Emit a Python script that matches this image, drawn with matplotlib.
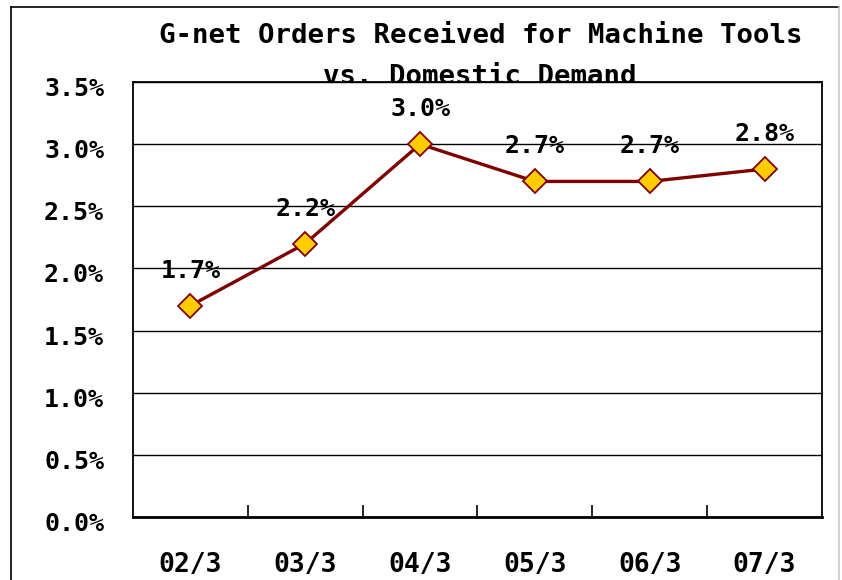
#!/usr/bin/env python3
"""
G-net orders received for machine tools vs. domestic demand
"""

import matplotlib
matplotlib.use('Agg')
import numpy as np
import matplotlib.pyplot as plt
from matplotlib.lines import Line2D

# Data
periods = ['02/3', '03/3', '04/3', '05/3', '06/3', '07/3']
share_pct = [1.7, 2.2, 3.0, 2.7, 2.7, 2.8]
y_ticks = [0.0, 0.5, 1.0, 1.5, 2.0, 2.5, 3.0, 3.5]

TITLE_LINES = ['G-net Orders Received for Machine Tools', 'vs. Domestic Demand']

# Style
LINE_COLOR = '#800000'
MARKER_FACE = '#FFCC00'
FONT = ['DejaVu Sans Mono', 'DejaVu Sans']
LABEL_SIZE = 18
PX = 72 / 100  # points per pixel at dpi 100

plt.rcParams['font.family'] = FONT
plt.rcParams['font.weight'] = 'bold'

fig = plt.figure(figsize=(8.42, 5.8), dpi=100)
ax = fig.add_axes([133 / 842, 63 / 580, 689 / 842, 435 / 580])

x = np.arange(len(periods))
ax.plot(x, share_pct, color=LINE_COLOR, linewidth=2.4, marker='D',
        markersize=12, markerfacecolor=MARKER_FACE,
        markeredgecolor=LINE_COLOR, markeredgewidth=1.3, zorder=5, clip_on=False)

# Value labels above the markers
for xi, v in zip(x, share_pct):
    ax.annotate(f'{v:.1f}%', (xi, v), xytext=(0, 28 * PX), textcoords='offset points',
                ha='center', va='baseline', fontsize=LABEL_SIZE, fontweight='bold',
                zorder=6, annotation_clip=False)

ax.set_xlim(-0.5, len(periods) - 0.5)
ax.set_ylim(0, 3.5)

# y axis: gridlines with labels drawn as text
ax.set_yticks(y_ticks)
ax.set_yticklabels([])
ax.tick_params(axis='y', length=0)
ax.yaxis.grid(True, color='black', linewidth=1.0)
for t in y_ticks:
    ax.annotate(f'{t:.1f}%', xy=(0, t), xycoords=('axes fraction', 'data'),
                xytext=(-29 * PX, -14 * PX), textcoords='offset points',
                ha='right', va='baseline', fontsize=LABEL_SIZE, fontweight='bold',
                annotation_clip=False)

# x axis: labels at centers, ticks at boundaries
ax.set_xticks(x)
ax.set_xticklabels([])
ax.set_xticks(np.arange(0.5, len(periods) - 0.5, 1.0), minor=True)
ax.tick_params(axis='x', which='major', length=0)
ax.tick_params(axis='x', which='minor', direction='in', length=8.5, width=1.2, color='black')
for xi, p in zip(x, periods):
    ax.annotate(p, xy=(xi, 0), xycoords=('data', 'axes fraction'),
                xytext=(0, -55 * PX), textcoords='offset points',
                ha='center', va='baseline', fontsize=LABEL_SIZE + 1, fontweight='bold',
                annotation_clip=False)

for side in ['top', 'right', 'left']:
    ax.spines[side].set_linewidth(1.3)
ax.spines['bottom'].set_linewidth(2.0)
ax.set_axisbelow(True)

# Title (second line partly hidden behind the plot area, as in the original)
fig.text(481 / 842, 1 - 43 / 580, TITLE_LINES[0], ha='center', va='baseline',
         fontsize=19.7, fontweight='bold', zorder=-1)
fig.text(480 / 842, 1 - 84 / 580, TITLE_LINES[1], ha='center', va='baseline',
         fontsize=19.7, fontweight='bold', zorder=-1)

# Outer chart frame
fig.add_artist(Line2D([11 / 842, 11 / 842], [0, 1 - 7 / 580], color='black', linewidth=1.2))
fig.add_artist(Line2D([11 / 842, 839 / 842], [1 - 7 / 580, 1 - 7 / 580], color='black', linewidth=1.2))
fig.add_artist(Line2D([839 / 842, 839 / 842], [0, 1 - 7 / 580], color='#c8c8c8', linewidth=1.2))

plt.savefig('out.png', dpi=100)
plt.close()
